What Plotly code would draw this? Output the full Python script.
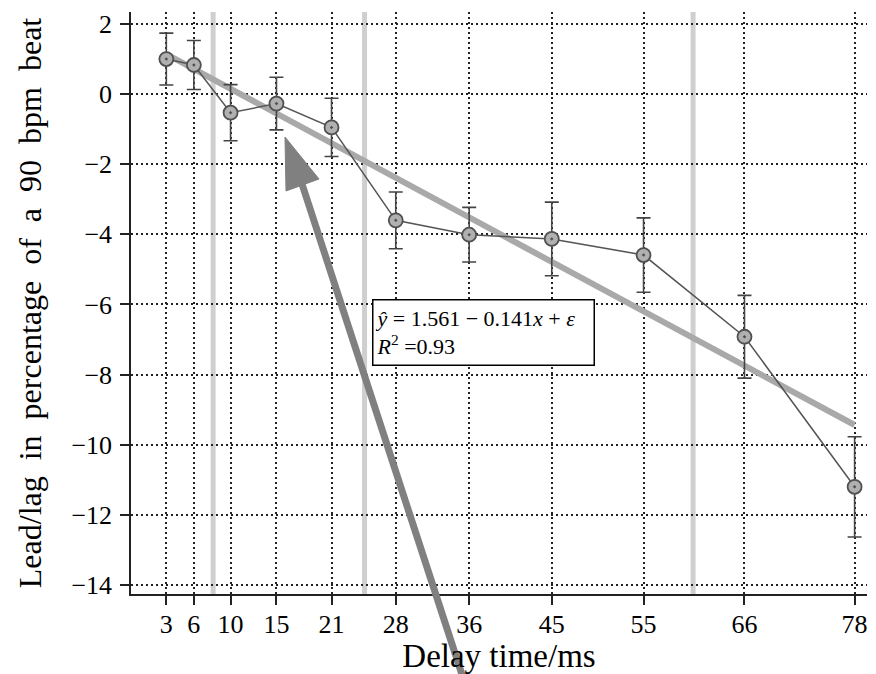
import plotly.graph_objects as go

# ---- data ----
delay_ms = [3, 6, 10, 15, 21, 28, 36, 45, 55, 66, 78]
lead_lag = [1.0, 0.83, -0.53, -0.27, -0.95, -3.6, -4.01, -4.13, -4.59, -6.92, -11.2]
err = [0.74, 0.70, 0.80, 0.75, 0.83, 0.81, 0.78, 1.05, 1.06, 1.18, 1.43]

fit_x = [3, 78]
fit_y = [1.138, -9.437]          # yhat = 1.561 - 0.141 x at the two ends

boundary_x = [8.1, 24.6, 60.4]   # light grey vertical bars

x_ticks = [3, 6, 10, 15, 21, 28, 36, 45, 55, 66, 78]
y_ticks = [2, 0, -2, -4, -6, -8, -10, -12, -14]

eq_text = "<i>ŷ</i> = 1.561 − 0.141<i>x</i> + <i>ε</i><br><i>R</i><sup>2</sup> =0.93"

FONT = "Liberation Serif"
OFF = 8                      # page body margin
VIS_R = 867                  # right edge of the visible page area
W, H = VIS_R - OFF, 674 - OFF
PLOT_L, PLOT_T, PLOT_B = 131, 12, 594      # page pixels of plot area
L, R, T = PLOT_L - OFF, 0, PLOT_T - OFF
B = H - (PLOT_B - OFF)
PW, PH = W - L - R, H - T - B


def px(xp):   # page pixel -> paper
    return (xp - PLOT_L) / PW


def py(yp):
    return (PLOT_B - yp) / PH


fig = go.Figure()

# regression line
fig.add_trace(go.Scatter(
    x=fit_x, y=fit_y, mode="lines",
    line=dict(color="#a9a9a9", width=6),
    hoverinfo="skip", showlegend=False))

# data with error bars
fig.add_trace(go.Scatter(
    x=delay_ms, y=lead_lag, mode="lines+markers",
    line=dict(color="#555555", width=1.5),
    marker=dict(symbol="circle-dot", size=14, color="#b0b0b0",
                line=dict(color="#505050", width=1.8)),
    error_y=dict(type="data", array=err, visible=True,
                 color="#444444", thickness=1.6, width=7),
    cliponaxis=False,
    showlegend=False))

shapes = []
for bx in boundary_x:
    shapes.append(dict(type="line", xref="x", yref="paper", x0=bx, x1=bx, y0=0, y1=1,
                       line=dict(color="#cfcfcf", width=5), layer="below"))

# big grey arrow (decoration)
shapes.append(dict(type="line", xref="paper", yref="paper",
                   x0=px(467), y0=py(690), x1=px(302), y1=py(184),
                   line=dict(color="#808080", width=7), layer="above"))
shapes.append(dict(type="path", xref="paper", yref="paper",
                   path=f"M{px(285)},{py(137)} L{px(286)},{py(191)} L{px(319)},{py(179)} Z",
                   fillcolor="#808080", line=dict(color="#808080", width=1), layer="above"))

fig.update_layout(
    width=W, height=H,
    margin=dict(l=L, r=R, t=T, b=B),
    plot_bgcolor="white", paper_bgcolor="white",
    font=dict(family=FONT, color="black", size=26),
    shapes=shapes,
    annotations=[dict(
        x=37.6, y=-6.8, xref="x", yref="y", text=eq_text, showarrow=False,
        align="left", xanchor="center", yanchor="middle",
        font=dict(family=FONT, size=22, color="black"),
        bordercolor="black", borderwidth=1.5, borderpad=2, bgcolor="white",
        width=216, height=60)],
)

grid_common = dict(showgrid=True, gridcolor="#222222", gridwidth=1.5, griddash="2px,3px",
                   zeroline=False, showline=True, linecolor="#222222", linewidth=1.5,
                   ticks="outside", ticklen=9, tickwidth=1.5, tickcolor="#222222",
                   ticklabeloverflow="allow",
                   tickfont=dict(family=FONT, size=26, color="black"))

fig.update_xaxes(range=[-0.85, 79.35], tickmode="array", tickvals=x_ticks,
                 ticktext=[str(v) for v in x_ticks],
                 title=dict(text="Delay time/ms", font=dict(family=FONT, size=33), standoff=0),
                 ticklabelstandoff=-3, automargin=False, **grid_common)
fig.update_yaxes(range=[-14.257, 2.342], tickmode="array", tickvals=y_ticks,
                 title=dict(text="Lead/lag\u00a0 in\u00a0 percentage\u00a0 of\u00a0 a\u00a0 90\u00a0 bpm\u00a0 beat",
                            font=dict(family=FONT, size=32), standoff=20),
                 ticklabelstandoff=3, automargin=False, **grid_common)

fig.write_html("out.html")
